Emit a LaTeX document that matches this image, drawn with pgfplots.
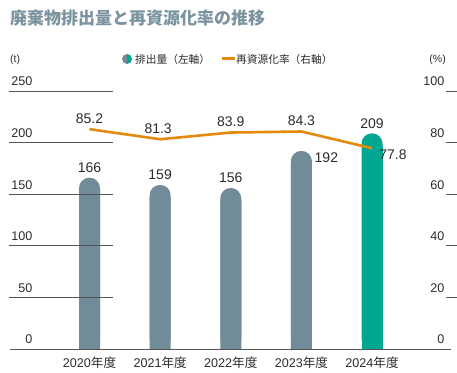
\documentclass[border=0pt]{standalone}
\usepackage{fontspec}
\setmainfont{Liberation Sans}
\newfontfamily\cjk{Noto Sans CJK JP}
\usepackage{pgfplots}
\usepackage{pgfplotstable}
\pgfplotsset{compat=1.18}
\definecolor{barc}{HTML}{718B98}
\definecolor{tealc}{HTML}{00A894}
\definecolor{orangec}{HTML}{E38A0C}
\definecolor{titlec}{HTML}{7A939F}
\definecolor{textc}{HTML}{2B2B2B}
\definecolor{tickc}{HTML}{555555}
\newcommand\ticksize{\fontsize{12.6bp}{14bp}\selectfont}
\newcommand\labsize{\fontsize{14bp}{16bp}\selectfont}

\pgfplotstableread{
x v dx dy
0 166 0 10
1 159 0 10
2 156 0 10
3 192 25 -7
}\bars
\pgfplotstableread{
x v dx dy
4 209 0 10
}\barlast
\pgfplotstableread{
x v dx dy
0 85.2 0 11
1 81.3 -2 11
2 83.9 0 11
3 84.3 0 11
4 77.8 21 -6
}\rate

\begin{document}
\begin{tikzpicture}
\useasboundingbox (0,0) rectangle (457bp,373bp);
% title
\node[anchor=west, inner sep=0pt, text=titlec] at (10bp,355bp) {\fontsize{17bp}{19bp}\selectfont\cjk\bfseries 廃棄物排出量と再資源化率の推移};
% units
\node[anchor=west, inner sep=0pt, text=textc] at (10bp,313bp) {\fontsize{10.5bp}{12bp}\selectfont (t)};
\node[anchor=east, inner sep=0pt, text=textc] at (446bp,313bp) {\fontsize{10.5bp}{12bp}\selectfont (\%)};
% legend
\fill[barc] (127bp,319bp) arc[start angle=90, end angle=270, radius=5bp] -- cycle;
\fill[tealc] (127bp,319bp) arc[start angle=90, end angle=-90, radius=5bp] -- cycle;
\node[anchor=west, inner sep=0pt, text=textc] at (135bp,314bp) {\fontsize{10.7bp}{12bp}\selectfont\cjk 排出量（左軸）};
\draw[orangec, line width=3bp] (222bp,314bp) -- (235bp,314bp);
\node[anchor=west, inner sep=0pt, text=textc] at (236bp,314bp) {\fontsize{10.7bp}{12bp}\selectfont\cjk 再資源化率（右軸）};

\begin{axis}[
  at={(10bp,24bp)}, anchor=south west,
  scale only axis, width=441bp, height=258bp,
  xmin=-1.1257, xmax=5.1186, ymin=0, ymax=250,
  clip=false,
  axis line style={draw=none}, tick style={draw=none},
  /pgf/number format/assume math mode=true,
  xtick={0,1,2,3,4},
  xticklabels={2020{\cjk 年度},2021{\cjk 年度},2022{\cjk 年度},2023{\cjk 年度},2024{\cjk 年度}},
  xticklabel style={anchor=north, inner sep=0pt, yshift=-8bp, font=\ticksize, text=textc},
  ytick={0,50,100,150,200,250},
  yticklabel style={anchor=south east, inner sep=0pt, xshift=22.5bp, yshift=4.7bp, font=\ticksize, text=textc},
]
\addplot[ybar, bar width=21bp, bar shift=0pt, fill=barc, draw=none, rounded corners=10.4bp] table[x=x,y=v]{\bars};
\addplot[ybar, bar width=21bp, bar shift=0pt, fill=barc, draw=none] table[x=x,y expr=\thisrow{v}-12]{\bars};
\addplot[ybar, bar width=21bp, bar shift=0pt, fill=tealc, draw=none, rounded corners=10.4bp] table[x=x,y=v]{\barlast};
\addplot[ybar, bar width=21bp, bar shift=0pt, fill=tealc, draw=none] table[x=x,y expr=\thisrow{v}-12]{\barlast};
\addplot[only marks, mark=none, nodes near coords,
  visualization depends on={\thisrow{dx}\as\dx},
  visualization depends on={\thisrow{dy}\as\dy},
  nodes near coords style={anchor=center, inner sep=0pt, xshift=\dx bp, yshift=\dy bp, font=\labsize, text=textc}]
  table[x=x,y=v]{\bars};
\addplot[only marks, mark=none, nodes near coords,
  visualization depends on={\thisrow{dx}\as\dx},
  visualization depends on={\thisrow{dy}\as\dy},
  nodes near coords style={anchor=center, inner sep=0pt, xshift=\dx bp, yshift=\dy bp, font=\labsize, text=textc}]
  table[x=x,y=v]{\barlast};
\draw[tickc, line width=0.9bp] (rel axis cs:0,0) -- (rel axis cs:1,0);
\pgfplotsinvokeforeach{50,100,150,200,250}{
  \draw[tickc, line width=0.9bp] ([xshift=-0.7bp]axis cs:-1.1257,#1) -- ++(24bp,0);
}
\end{axis}

\begin{axis}[
  at={(10bp,24bp)}, anchor=south west,
  scale only axis, width=441bp, height=258bp,
  xmin=-1.1257, xmax=5.1186, ymin=0, ymax=100,
  clip=false,
  axis line style={draw=none}, tick style={draw=none},
  /pgf/number format/assume math mode=true,
  xtick=\empty,
  ytick={0,20,40,60,80,100},
  yticklabel pos=right,
  yticklabel style={anchor=south east, inner sep=0pt, xshift=-6.5bp, yshift=4.7bp, font=\ticksize, text=textc},
]
\addplot[orangec, line width=2.6bp, mark=none] table[x=x,y=v]{\rate};
\addplot[only marks, mark=none, nodes near coords,
  visualization depends on={\thisrow{dx}\as\dx},
  visualization depends on={\thisrow{dy}\as\dy},
  nodes near coords style={anchor=center, inner sep=0pt, xshift=\dx bp, yshift=\dy bp, font=\labsize, text=textc}]
  table[x=x,y=v]{\rate};
\pgfplotsinvokeforeach{20,40,60,80,100}{
  \draw[tickc, line width=0.9bp] ([xshift=-5bp]axis cs:5.1186,#1) -- ++(-24bp,0);
}
\end{axis}
\end{tikzpicture}
\end{document}
